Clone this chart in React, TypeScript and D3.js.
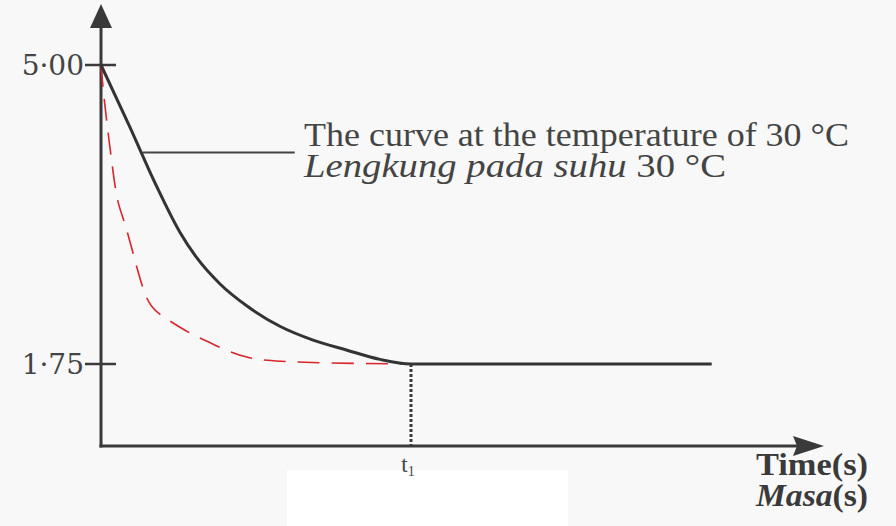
import React, { useRef, useEffect } from 'react';
import * as d3 from 'd3';

// schematic time units; t1 = 10
const blackTime = [0, 0.94, 1.74, 2.55, 3.1, 3.84, 4.71, 5.77, 6.84, 7.94, 9.0, 10, 19.7];
const blackValue = [5.0, 4.32, 3.72, 3.18, 2.9, 2.62, 2.38, 2.16, 2.01, 1.9, 1.8, 1.75, 1.75];

const redTime = [0, 0.1, 0.26, 0.42, 0.55, 0.77, 1.06, 1.32, 1.58, 2.16, 2.87, 3.58, 4.71, 5.77, 7.06, 10];
const redValue = [5.0, 4.62, 4.18, 3.75, 3.48, 3.29, 2.92, 2.6, 2.36, 2.23, 2.08, 1.97, 1.8, 1.78, 1.76, 1.75];

const yTicks = [5.0, 1.75];
const yTickLabels = ['5·00', '1·75'];
const t1 = 10;
const leaderFrom = 1.35;
const leaderTo = 6.25;
const leaderValue = 4.05;

const W = 896;
const H = 526;

function App(): React.ReactElement {
  const svgRef = useRef<SVGSVGElement | null>(null);

  useEffect(() => {
    const svg = d3.select(svgRef.current);
    svg.selectAll('*').remove();

    const x = d3.scaleLinear().domain([0, 10]).range([101, 411]);
    const y = d3.scaleLinear().domain([1.75, 5]).range([364, 65]);
    const axisY = 446;
    const axisColor = '#3a3a3a';
    const serif = '"Liberation Serif", "Times New Roman", serif';

    svg.append('rect').attr('width', W).attr('height', H).attr('fill', '#f7f8f7');
    svg.append('rect').attr('x', 287).attr('y', 470).attr('width', 281).attr('height', 56).attr('fill', '#ffffff');

    // axes
    svg.append('line')
      .attr('x1', x(0)).attr('x2', x(0))
      .attr('y1', axisY + 1.5).attr('y2', 22)
      .attr('stroke', axisColor).attr('stroke-width', 3);
    svg.append('path')
      .attr('d', `M${x(0)},4 L${x(0) - 11},28 L${x(0) + 11},28 Z`)
      .attr('fill', axisColor);
    svg.append('line')
      .attr('x1', x(0) - 1.5).attr('x2', 800)
      .attr('y1', axisY).attr('y2', axisY)
      .attr('stroke', axisColor).attr('stroke-width', 3);
    svg.append('path')
      .attr('d', `M824,${axisY} L793,${axisY - 10} L797,${axisY} L793,${axisY + 10} Z`)
      .attr('fill', axisColor);

    // y ticks
    yTicks.forEach((v, i) => {
      svg.append('line')
        .attr('x1', x(0) - 16).attr('x2', x(0) + 15)
        .attr('y1', y(v)).attr('y2', y(v))
        .attr('stroke', axisColor).attr('stroke-width', 2.5);
      svg.append('text')
        .attr('x', x(0) - 17).attr('y', y(v) + 10)
        .attr('text-anchor', 'end')
        .attr('font-family', '"DejaVu Serif", serif')
        .attr('font-size', 28)
        .attr('fill', '#444')
        .text(yTickLabels[i]);
    });

    // t1 marker
    svg.append('line')
      .attr('x1', x(t1)).attr('x2', x(t1))
      .attr('y1', y(1.75)).attr('y2', axisY)
      .attr('stroke', axisColor).attr('stroke-width', 3)
      .attr('stroke-dasharray', '3,2');
    const t1Text = svg.append('text')
      .attr('x', x(t1) - 3).attr('y', 472)
      .attr('text-anchor', 'middle')
      .attr('font-family', serif)
      .attr('font-size', 23)
      .attr('fill', '#444');
    t1Text.append('tspan').text('t');
    t1Text.append('tspan').attr('font-size', 14).attr('dy', 4).text('1');

    const line = d3.line<[number, number]>()
      .x((d) => x(d[0]))
      .y((d) => y(d[1]));

    svg.append('path')
      .datum(redTime.map((t, i) => [t, redValue[i]] as [number, number]))
      .attr('d', line.curve(d3.curveBasis))
      .attr('fill', 'none')
      .attr('stroke', '#d8262c')
      .attr('stroke-width', 1.6)
      .attr('stroke-dasharray', '22,12');

    svg.append('path')
      .datum(blackTime.map((t, i) => [t, blackValue[i]] as [number, number]))
      .attr('d', line.curve(d3.curveMonotoneX))
      .attr('fill', 'none')
      .attr('stroke', '#333')
      .attr('stroke-width', 3);

    // label leader
    svg.append('line')
      .attr('x1', x(leaderFrom)).attr('x2', x(leaderTo))
      .attr('y1', y(leaderValue)).attr('y2', y(leaderValue))
      .attr('stroke', '#444').attr('stroke-width', 2);

    svg.append('text')
      .attr('x', 304).attr('y', 146)
      .attr('font-family', serif)
      .attr('font-size', 34)
      .attr('textLength', 545)
      .attr('lengthAdjust', 'spacingAndGlyphs')
      .attr('fill', '#444')
      .text('The curve at the temperature of 30 °C');
    const l2 = svg.append('text')
      .attr('x', 304).attr('y', 177)
      .attr('font-family', serif)
      .attr('font-size', 34)
      .attr('textLength', 422)
      .attr('lengthAdjust', 'spacingAndGlyphs')
      .attr('fill', '#444');
    l2.append('tspan').attr('font-style', 'italic').text('Lengkung pada suhu');
    l2.append('tspan').text(' 30 °C');

    svg.append('text')
      .attr('x', 868).attr('y', 475)
      .attr('text-anchor', 'end')
      .attr('font-family', serif)
      .attr('font-size', 32)
      .attr('textLength', 112)
      .attr('lengthAdjust', 'spacingAndGlyphs')
      .attr('font-weight', 'bold')
      .attr('fill', '#3a3a3a')
      .text('Time(s)');
    const masa = svg.append('text')
      .attr('x', 868).attr('y', 506)
      .attr('text-anchor', 'end')
      .attr('font-family', serif)
      .attr('font-size', 32)
      .attr('textLength', 112)
      .attr('lengthAdjust', 'spacingAndGlyphs')
      .attr('font-weight', 'bold')
      .attr('fill', '#3a3a3a');
    masa.append('tspan').attr('font-style', 'italic').text('Masa');
    masa.append('tspan').text('(s)');
  }, []);

  return (
    <svg
      ref={svgRef}
      width={W}
      height={H}
      style={{ position: 'absolute', left: 0, top: 0, display: 'block' }}
    />
  );
}

export default App;
